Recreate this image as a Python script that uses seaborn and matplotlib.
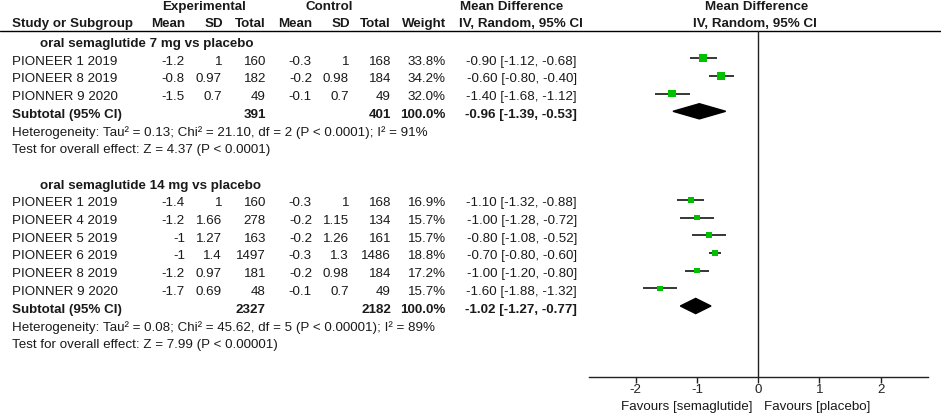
import numpy as np
import pandas as pd
import matplotlib
matplotlib.use("Agg")
import matplotlib.pyplot as plt
import seaborn as sns
from matplotlib.patches import Polygon

# oral semaglutide 7 mg vs placebo
group1_title = "oral semaglutide 7 mg vs placebo"
studies1 = ["PIONEER 1 2019", "PIONEER 8 2019", "PIONNER 9 2020"]
exp_mean1 = [-1.2, -0.8, -1.5]
exp_sd1 = [1, 0.97, 0.7]
exp_n1 = [160, 182, 49]
ctl_mean1 = [-0.3, -0.2, -0.1]
ctl_sd1 = [1, 0.98, 0.7]
ctl_n1 = [168, 184, 49]
weight1 = [33.8, 34.2, 32.0]
md1 = [-0.90, -0.60, -1.40]
lo1 = [-1.12, -0.80, -1.68]
hi1 = [-0.68, -0.40, -1.12]
sub1 = {"exp_n": 391, "ctl_n": 401, "md": -0.96, "lo": -1.39, "hi": -0.53}
het1 = "Heterogeneity: Tau² = 0.13; Chi² = 21.10, df = 2 (P < 0.0001); I² = 91%"
test1 = "Test for overall effect: Z = 4.37 (P < 0.0001)"

# oral semaglutide 14 mg vs placebo
group2_title = "oral semaglutide 14 mg vs placebo"
studies2 = ["PIONEER 1 2019", "PIONEER 4 2019", "PIONEER 5 2019",
            "PIONEER 6 2019", "PIONEER 8 2019", "PIONNER 9 2020"]
exp_mean2 = [-1.4, -1.2, -1, -1, -1.2, -1.7]
exp_sd2 = [1, 1.66, 1.27, 1.4, 0.97, 0.69]
exp_n2 = [160, 278, 163, 1497, 181, 48]
ctl_mean2 = [-0.3, -0.2, -0.2, -0.3, -0.2, -0.1]
ctl_sd2 = [1, 1.15, 1.26, 1.3, 0.98, 0.7]
ctl_n2 = [168, 134, 161, 1486, 184, 49]
weight2 = [16.9, 15.7, 15.7, 18.8, 17.2, 15.7]
md2 = [-1.10, -1.00, -0.80, -0.70, -1.00, -1.60]
lo2 = [-1.32, -1.28, -1.08, -0.80, -1.20, -1.88]
hi2 = [-0.88, -0.72, -0.52, -0.60, -0.80, -1.32]
sub2 = {"exp_n": 2327, "ctl_n": 2182, "md": -1.02, "lo": -1.27, "hi": -0.77}
het2 = "Heterogeneity: Tau² = 0.08; Chi² = 45.62, df = 5 (P < 0.00001); I² = 89%"
test2 = "Test for overall effect: Z = 7.99 (P < 0.00001)"

xticks = [-2, -1, 0, 1, 2]
favours_left = "Favours [semaglutide]"
favours_right = "Favours [placebo]"

sns.set_style("white")
plt.rcParams["font.family"] = ["Liberation Sans", "DejaVu Sans"]
FS = 9.6
TXT = "#1a1a1a"
GREEN = "#00c000"

W, H = 941, 415
fig = plt.figure(figsize=(W / 100, H / 100), dpi=100)

# table axes in pixel coordinates
ax_t = fig.add_axes([0, 0, 1, 1])
ax_t.set_xlim(0, W)
ax_t.set_ylim(H, 0)
ax_t.axis("off")

# forest axes, same y (pixel rows)
AX_L, AX_R, AX_TOP, AX_BOT = 589, 928, 31, 377
ax_f = fig.add_axes([AX_L / W, 1 - AX_BOT / H, (AX_R - AX_L) / W, (AX_BOT - AX_TOP) / H])
ax_f.set_ylim(AX_BOT, AX_TOP)
ax_f.set_xlim(-2.76, 2.77)
ax_f.patch.set_alpha(0)

ROW0, ROW = 44, 17.7
MARK_OFF = -3.5  # squares sit a little above the text line
cols = {"exp_mean": 185, "exp_sd": 222, "exp_n": 266, "ctl_mean": 312,
        "ctl_sd": 349, "ctl_n": 391, "weight": 446, "ci": 577}


def t(x, y, s, ha="left", bold=False):
    ax_t.text(x, y, s, ha=ha, va="center", fontsize=FS, color=TXT,
              fontweight="bold" if bold else "normal")


# headers
t(204, 7, "Experimental", "center", True)
t(329, 7, "Control", "center", True)
t(512, 7, "Mean Difference", "center", True)
t(757, 7, "Mean Difference", "center", True)
t(12, 24, "Study or Subgroup", bold=True)
t(185, 24, "Mean", "right", True)
t(223, 24, "SD", "right", True)
t(266, 24, "Total", "right", True)
t(312, 24, "Mean", "right", True)
t(350, 24, "SD", "right", True)
t(391, 24, "Total", "right", True)
t(446, 24, "Weight", "right", True)
t(521, 24, "IV, Random, 95% CI", "center", True)
t(755, 24, "IV, Random, 95% CI", "center", True)
ax_t.axhline(31, color="black", lw=1)

groups = [
    (group1_title, studies1, exp_mean1, exp_sd1, exp_n1, ctl_mean1, ctl_sd1, ctl_n1,
     weight1, md1, lo1, hi1, sub1, het1, test1),
    (group2_title, studies2, exp_mean2, exp_sd2, exp_n2, ctl_mean2, ctl_sd2, ctl_n2,
     weight2, md2, lo2, hi2, sub2, het2, test2),
]

frames = []
subtotals = []
k = 0
for (title, st, em, es, en, cm, cs, cn, wt, md, lo, hi, sub, het, tst) in groups:
    t(40, ROW0 + k * ROW, title, bold=True)
    k += 1
    ys = []
    for i in range(len(st)):
        y = ROW0 + k * ROW
        t(12, y, st[i])
        t(cols["exp_mean"], y, f"{em[i]:g}", "right")
        t(cols["exp_sd"], y, f"{es[i]:g}", "right")
        t(cols["exp_n"], y, f"{en[i]}", "right")
        t(cols["ctl_mean"], y, f"{cm[i]:g}", "right")
        t(cols["ctl_sd"], y, f"{cs[i]:g}", "right")
        t(cols["ctl_n"], y, f"{cn[i]}", "right")
        t(cols["weight"], y, f"{wt[i]:.1f}%", "right")
        t(cols["ci"], y, f"{md[i]:.2f} [{lo[i]:.2f}, {hi[i]:.2f}]", "right")
        ys.append(y)
        k += 1
    frames.append(pd.DataFrame({"y": ys, "md": md, "lo": lo, "hi": hi, "weight": wt}))
    y = ROW0 + k * ROW
    t(12, y, "Subtotal (95% CI)", bold=True)
    t(cols["exp_n"], y, f"{sub['exp_n']}", "right", True)
    t(cols["ctl_n"], y, f"{sub['ctl_n']}", "right", True)
    t(cols["weight"], y, "100.0%", "right", True)
    t(cols["ci"], y, f"{sub['md']:.2f} [{sub['lo']:.2f}, {sub['hi']:.2f}]", "right", True)
    subtotals.append((y, sub))
    k += 1
    t(12, ROW0 + k * ROW, het)
    k += 1
    t(12, ROW0 + k * ROW, tst)
    k += 2

df = pd.concat(frames, ignore_index=True)
df["ym"] = df["y"] + MARK_OFF

# forest plot
ax_f.axvline(0, color="#222222", lw=1, zorder=1)
ax_f.hlines(df["ym"], df["lo"], df["hi"], color="black", lw=1.1, zorder=2)
sns.scatterplot(data=df, x="md", y="ym", size="weight", sizes=(0, 98), size_norm=(0, 100),
                marker="s", color=GREEN, linewidth=0, legend=False, ax=ax_f, zorder=3)
for y, sub in subtotals:
    yc = y + MARK_OFF
    ax_f.add_patch(Polygon([(sub["lo"], yc), (sub["md"], yc - 7.6), (sub["hi"], yc),
                            (sub["md"], yc + 7.6)], closed=True, color="black", zorder=3))

for side in ["top", "left", "right"]:
    ax_f.spines[side].set_visible(False)
ax_f.spines["bottom"].set_color("#222222")
ax_f.spines["bottom"].set_linewidth(1)
ax_f.set_yticks([])
ax_f.set_xticks(xticks)
ax_f.set_xticklabels([str(v) for v in xticks])
ax_f.tick_params(axis="x", direction="out", length=4.5, width=1, pad=0.5,
                 labelsize=FS, colors="#222222", bottom=True)
ax_f.set_xlabel("")
ax_f.set_ylabel("")

t(753, 407, favours_left, "right")
t(764, 407, favours_right, "left")

fig.savefig("out.png", dpi=100)
